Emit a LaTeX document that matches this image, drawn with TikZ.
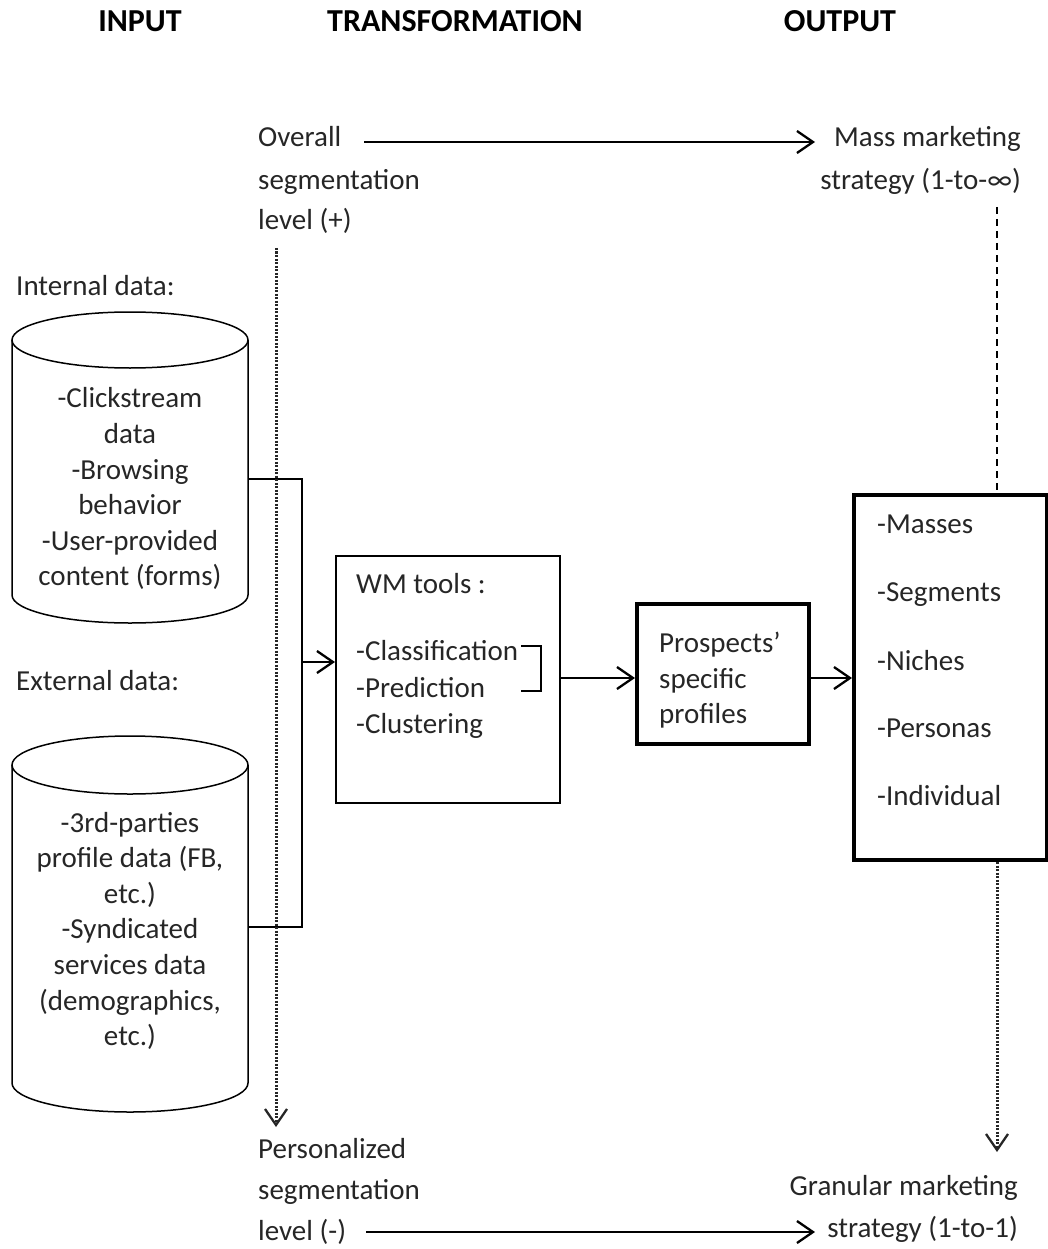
\documentclass[tikz,border=0pt]{standalone}
\usepackage{fontspec}
\setmainfont{Carlito}
\usetikzlibrary{arrows.meta}
\definecolor{ink}{HTML}{262626}
\begin{document}
\begin{tikzpicture}[x=1pt,y=1pt,
  txt/.style={inner sep=0pt, font=\fontsize{29}{36}\selectfont, text=ink},
  hdr/.style={inner sep=0pt, font=\fontsize{32}{36}\selectfont\bfseries, text=black},
  thinln/.style={line width=1.5pt, draw=black},
  thinbox/.style={draw=black, line width=1.5pt, inner sep=0pt},
  thickbox/.style={draw=black, line width=4pt, inner sep=0pt},
  tipV/.style={-{Straight Barb[length=16pt,width=22pt,line width=2.3pt]}},
  arr/.style={line width=1.8pt, tipV},
  dotln/.style={line width=3pt, dash pattern=on 2.2pt off 1.3pt, draw=ink},
  dashln/.style={line width=1.7pt, dash pattern=on 7pt off 5pt},
]
\useasboundingbox (0,0) rectangle (1047,-1249);

% column headings
\node[hdr, anchor=base] (hin)  at (140,-32) {INPUT};
\node[hdr, anchor=base] (htr)  at (455,-32) {TRANSFORMATION};
\node[hdr, anchor=base] (hout) at (840,-32) {OUTPUT};

% segmentation level scale, top
\node[txt, anchor=base west] (ov1) at (258,-147) {Overall};
\node[txt, anchor=base west] (ov2) at (258,-190) {segmentation};
\node[txt, anchor=base west] (ov3) at (258,-230) {level (+)};
\node[txt, anchor=base east] (mm1) at (1021,-147) {Mass marketing};
\node[txt, anchor=base east] (mm2) at (1021,-190) {strategy (1-to-∞)};
\coordinate (ta) at (364,-142);
\coordinate (tb) at (815,-142);
\draw[arr] (ta) -- (tb);

% segmentation level scale, bottom
\node[txt, anchor=base west] (pl1) at (258,-1158) {Personalized};
\node[txt, anchor=base west] (pl2) at (258,-1199) {segmentation};
\node[txt, anchor=base west] (pl3) at (258,-1240) {level (-)};
\node[txt, anchor=base east] (gm1) at (1018,-1195) {Granular marketing};
\node[txt, anchor=base east] (gm2) at (1018,-1237) {strategy (1-to-1)};
\coordinate (ba) at (366,-1232);
\coordinate (bb) at (815,-1232);
\draw[arr] (ba) -- (bb);

% input: internal data store
\node[txt, anchor=base west] (intl) at (16,-295) {Internal data:};
\draw[thinln] (12,-340) -- (12,-595)
  arc[start angle=180, end angle=360, x radius=118, y radius=28] -- (248,-340);
\draw[thinln] (130,-340) ellipse [x radius=118, y radius=28];
\node[txt, anchor=base] (c1) at (130,-407) {-Clickstream};
\node[txt, anchor=base] (c2) at (130,-443) {data};
\node[txt, anchor=base] (c3) at (130,-479) {-Browsing};
\node[txt, anchor=base] (c4) at (130,-514) {behavior};
\node[txt, anchor=base] (c5) at (130,-550) {-User-provided};
\node[txt, anchor=base] (c6) at (130,-585) {content (forms)};
\coordinate (dbone) at (248,-479);

% input: external data store
\node[txt, anchor=base west] (extl) at (16,-690) {External data:};
\draw[thinln] (12,-765) -- (12,-1083)
  arc[start angle=180, end angle=360, x radius=118, y radius=29] -- (248,-765);
\draw[thinln] (130,-765) ellipse [x radius=118, y radius=29];
\node[txt, anchor=base] (e1) at (130,-832) {-3rd-parties};
\node[txt, anchor=base] (e2) at (130,-867) {profile data (FB,};
\node[txt, anchor=base] (e3) at (130,-903) {etc.)};
\node[txt, anchor=base] (e4) at (130,-938) {-Syndicated};
\node[txt, anchor=base] (e5) at (130,-974) {services data};
\node[txt, anchor=base] (e6) at (130,-1010) {(demographics,};
\node[txt, anchor=base] (e7) at (130,-1045) {etc.)};
\coordinate (dbtwo) at (248,-927);

% transformation: web mining tools
\node[thinbox, minimum width=224pt, minimum height=247pt, anchor=north west] (wm) at (335,-555) {};
\node[txt, anchor=base west] (wm1) at (356,-593) {WM tools :};
\node[txt, anchor=base west] (wm2) at (356,-660) {-Classification};
\node[txt, anchor=base west] (wm3) at (356,-697) {-Prediction};
\node[txt, anchor=base west] (wm4) at (356,-733) {-Clustering};
\draw[thinln] (521,-646) -- (541,-646) -- (541,-691) -- (521,-691);

% profiles
\node[thickbox, minimum width=172pt, minimum height=140pt, anchor=north west] (prof) at (635,-602) {};
\node[txt, anchor=base west] (pr1) at (659,-652) {Prospects’};
\node[txt, anchor=base west] (pr2) at (659,-688) {specific};
\node[txt, anchor=base west] (pr3) at (659,-723) {profiles};

% output: segment granularity
\node[thickbox, minimum width=193pt, minimum height=365pt, anchor=north west] (out) at (852,-493) {};
\node[txt, anchor=base west] (o1) at (877,-533) {-Masses};
\node[txt, anchor=base west] (o2) at (877,-601) {-Segments};
\node[txt, anchor=base west] (o3) at (877,-670) {-Niches};
\node[txt, anchor=base west] (o4) at (877,-737) {-Personas};
\node[txt, anchor=base west] (o5) at (877,-805) {-Individual};

% data feed into the tools
\coordinate (fork) at (302,-662);
\draw[thinln] (dbone) -- (dbone -| fork) -- (dbtwo -| fork) -- (dbtwo);
\draw[arr] (fork) -- (fork -| wm.west);
\coordinate (flow) at (0,-678);
\draw[arr] (wm.east |- flow) -- (prof.west |- flow);
\draw[arr] (prof.east |- flow) -- (out.west |- flow);

% scale guides
\coordinate (ltop) at (276,-248);
\coordinate (lbot) at (276,-1127);
\draw[dotln, tipV] (ltop) -- (lbot);
\coordinate (dtop) at (997,-207);
\coordinate (rbot) at (997,-1152);
\draw[dashln] (dtop) -- (dtop |- out.north);
\draw[dotln, tipV] (dtop |- out.south) -- (rbot);
\end{tikzpicture}
\end{document}
